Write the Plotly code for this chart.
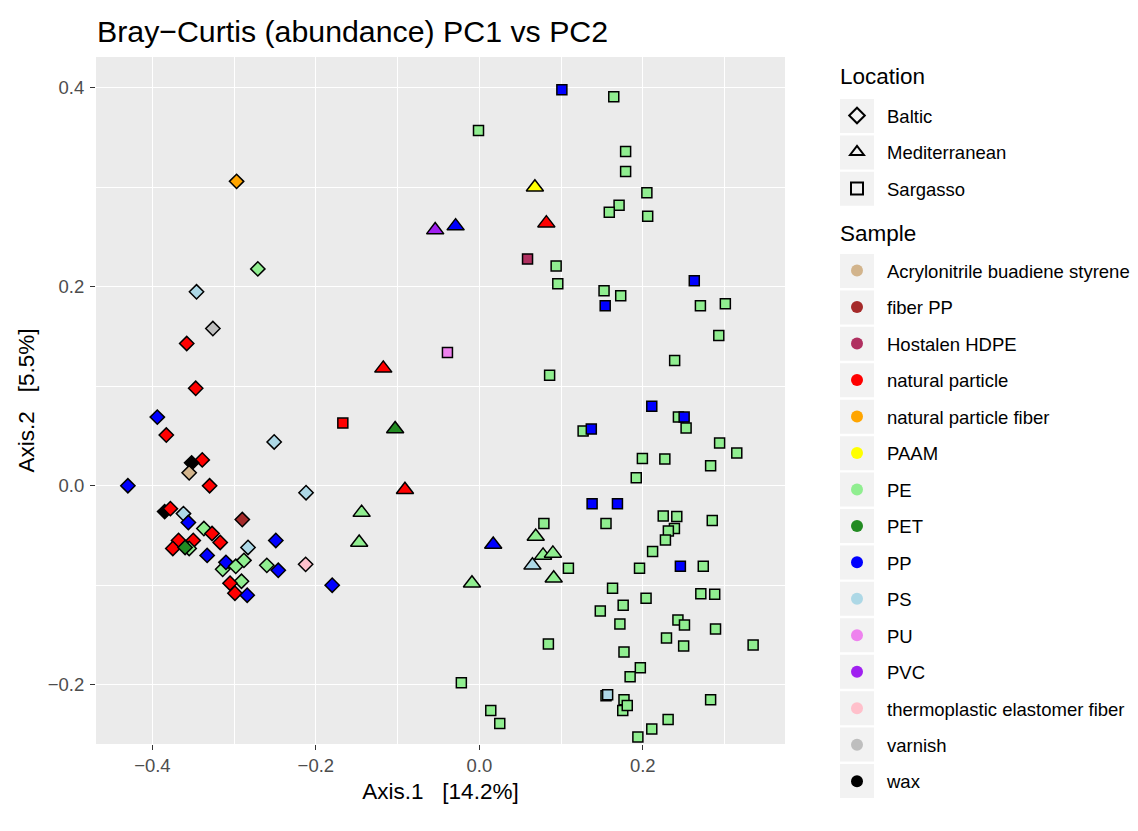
import plotly.graph_objects as go

# ---------------- data ----------------
location_names = ["Baltic", "Mediterranean", "Sargasso"]
location_symbols = ["diamond", "triangle-up", "square"]

sample_names = ["Acrylonitrile buadiene styrene", "fiber PP", "Hostalen HDPE",
                "natural particle", "natural particle fiber", "PAAM", "PE", "PET",
                "PP", "PS", "PU", "PVC", "thermoplastic elastomer fiber",
                "varnish", "wax"]
sample_colors = ["#D2B48C", "#A52A2A", "#B03060", "#FF0000", "#FFA500", "#FFFF00",
                 "#90EE90", "#228B22", "#0000FF", "#ADD8E6", "#EE82EE", "#A020F0",
                 "#FFC0CB", "#BEBEBE", "#000000"]

baltic_pc1 = [-0.271, -0.346, -0.326, -0.358, -0.347, -0.394, -0.383, -0.251, -0.339,
              -0.352, -0.355, -0.430, -0.330, -0.212, -0.297, -0.385, -0.378, -0.362,
              -0.356, -0.290, -0.337, -0.327, -0.317, -0.283, -0.249, -0.368, -0.350,
              -0.375, -0.355, -0.360, -0.333, -0.314, -0.310, -0.298, -0.288, -0.260,
              -0.246, -0.2125, -0.291, -0.305, -0.299, -0.284, -0.180]
baltic_pc2 = [0.218, 0.195, 0.158, 0.143, 0.098, 0.069, 0.051, 0.044, 0.026,
              0.023, 0.013, 0.000, 0.000, -0.007, 0.306, -0.026, -0.023, -0.028,
              -0.037, -0.034, -0.043, -0.048, -0.057, -0.062, -0.055, -0.055, -0.055,
              -0.063, -0.063, -0.062, -0.070, -0.084, -0.077, -0.081, -0.075, -0.080,
              -0.085, -0.079, -0.096, -0.098, -0.108, -0.110, -0.100]
baltic_sample = ["PE", "PS", "varnish", "natural particle", "natural particle", "PP",
                 "natural particle", "PS", "natural particle", "wax",
                 "Acrylonitrile buadiene styrene", "PP", "natural particle", "PS",
                 "natural particle fiber", "wax", "natural particle", "PS", "PP",
                 "fiber PP", "PE", "natural particle", "natural particle", "PS", "PP",
                 "natural particle", "natural particle", "natural particle", "PE", "PET",
                 "PP", "PE", "PP", "PE", "PE", "PE", "PP",
                 "thermoplastic elastomer fiber", "PE", "natural particle",
                 "natural particle", "PP", "PP"]

sargasso_pc1 = [-0.001, 0.059, -0.167, -0.039, 0.101, 0.1645, 0.179, 0.179, 0.205,
                0.171, 0.159, 0.206, 0.094, 0.096, 0.1526, 0.173, 0.263, 0.154,
                0.2705, 0.301, 0.293, 0.239, 0.086, 0.211, 0.2436, 0.2506, 0.253,
                0.127, 0.137, 0.294, 0.315, 0.1995, 0.227, 0.283, 0.192, 0.138,
                0.169, 0.079, 0.155, 0.225, 0.2416, 0.2387, 0.2313, 0.2277, 0.285,
                0.109, 0.212, 0.196, 0.246, 0.274, 0.163, 0.204, 0.271, 0.288,
                0.176, 0.148, 0.172, 0.243, 0.251, 0.289, 0.229, 0.250, 0.335,
                0.0845, 0.177, 0.197, 0.1845, -0.022, 0.155, 0.157, 0.177, 0.1755,
                0.181, 0.283, 0.014, 0.025, 0.231, 0.211, 0.194]
sargasso_pc2 = [0.357, 0.228, 0.063, 0.134, 0.398, 0.391, 0.336, 0.316, 0.2945,
                0.282, 0.275, 0.271, 0.221, 0.203, 0.196, 0.191, 0.206, 0.181,
                0.181, 0.183, 0.151, 0.126, 0.111, 0.080, 0.069, 0.069, 0.058,
                0.055, 0.057, 0.043, 0.033, 0.0275, 0.027, 0.020, 0.008, -0.018,
                -0.018, -0.038, -0.038, -0.0305, -0.031, -0.043, -0.0455, -0.0546, -0.035,
                -0.083, -0.066, -0.083, -0.081, -0.081, -0.103, -0.113, -0.1085, -0.109,
                -0.120, -0.126, -0.139, -0.135, -0.140, -0.144, -0.153, -0.161, -0.160,
                -0.159, -0.167, -0.183, -0.192, -0.198, -0.211, -0.210, -0.215, -0.226,
                -0.221, -0.215, -0.226, -0.239, -0.235, -0.2445, -0.2526]
sargasso_sample = ["PE", "Hostalen HDPE", "natural particle", "PU", "PP", "PE", "PE",
                   "PE", "PE", "PE", "PE", "PE", "PE", "PE", "PE", "PE", "PP", "PP",
                   "PE", "PE", "PE", "PE", "PE", "PP", "PE", "PP", "PE", "PE", "PP",
                   "PE", "PE", "PE", "PE", "PE", "PE", "PP", "PP", "PE", "PE", "PE",
                   "PE", "PE", "PE", "PE", "PE", "PE", "PE", "PE", "PP", "PE", "PE",
                   "PE", "PE", "PE", "PE", "PE", "PE", "PE", "PE", "PE", "PE", "PE",
                   "PE", "PE", "PE", "PE", "PE", "PE", "PE", "PS", "PE", "PE", "PE",
                   "PE", "PE", "PE", "PE", "PE", "PE"]

med_pc1 = [0.068, -0.054, -0.029, 0.082, -0.1175, -0.103, -0.091, -0.144, -0.147,
           0.017, 0.069, 0.078, 0.090, 0.065, 0.091, -0.009]
med_pc2 = [0.300, 0.257, 0.261, 0.264, 0.118, 0.057, -0.004, -0.027, -0.057,
           -0.059, -0.051, -0.070, -0.068, -0.080, -0.093, -0.098]
med_sample = ["PAAM", "PVC", "PP", "natural particle", "natural particle", "PET",
              "natural particle", "PE", "PE", "PP", "PE", "PE", "PE", "PS", "PE", "PE"]

# ---------------- figure ----------------
color_of = dict(zip(sample_names, sample_colors))
sym_of = dict(zip(location_names, location_symbols))
FONT = "Liberation Sans, Arial, Helvetica, sans-serif"

# The page body has an 8px margin, so the figure is sized to fit the window.
OFF = 8
WIN_W, WIN_H = 1138, 831
W, H = WIN_W - OFF, WIN_H - OFF
# panel edges in window pixels: left 96, right 785, top 57, bottom 744
ML, MR, MT, MB = 96 - OFF, WIN_W - 785, 57 - OFF, WIN_H - 744
PW, PH = W - ML - MR, H - MT - MB


def px(x):   # window pixel -> paper x
    return (x - OFF - ML) / PW


def py(y):   # window pixel -> paper y
    return (H - MB - (y - OFF)) / PH


fig = go.Figure()

groups = [
    ("Baltic", baltic_pc1, baltic_pc2, baltic_sample, 11),
    ("Sargasso", sargasso_pc1, sargasso_pc2, sargasso_sample, 10),
    ("Mediterranean", med_pc1, med_pc2, med_sample, 15),
]
for loc, xs, ys, ss, size in groups:
    fig.add_trace(go.Scatter(
        x=xs, y=ys, mode="markers", showlegend=False, hoverinfo="skip",
        marker=dict(symbol=sym_of[loc], size=size,
                    color=[color_of[s] for s in ss],
                    line=dict(color="black", width=1.5)),
    ))

# legend: Location (shapes)
loc_key_size = {"diamond": 10, "triangle-up": 11, "square": 8}
for i, (loc, sym) in enumerate(zip(location_names, location_symbols)):
    fig.add_trace(go.Scatter(
        x=[None], y=[None], mode="markers", name=loc, legend="legend",
        legendgroup="loc" + str(i),
        marker=dict(symbol=sym + "-open", size=loc_key_size[sym], color="black",
                    line=dict(color="black", width=2.5)),
    ))

# legend: Sample (colours)
for i, (nm, col) in enumerate(zip(sample_names, sample_colors)):
    fig.add_trace(go.Scatter(
        x=[None], y=[None], mode="markers", name=nm, legend="legend2",
        legendgroup="s" + str(i),
        marker=dict(symbol="circle", size=10, color=col, line=dict(width=0)),
    ))

# grey key backgrounds behind legend symbols
shapes = []
loc_first, sam_first, step = 116, 271, 36.43
for k in range(len(location_names)):
    c = loc_first + k * step
    shapes.append(dict(type="rect", xref="paper", yref="paper", layer="below",
                       x0=px(840), x1=px(874), y0=py(c + 17), y1=py(c - 17),
                       fillcolor="#F2F2F2", line=dict(width=0)))
for k in range(len(sample_names)):
    c = sam_first + k * step
    shapes.append(dict(type="rect", xref="paper", yref="paper", layer="below",
                       x0=px(840), x1=px(874), y0=py(c + 17), y1=py(c - 17),
                       fillcolor="#F2F2F2", line=dict(width=0)))

axis_common = dict(
    showgrid=True, gridcolor="white", gridwidth=1.2,
    zeroline=False, showline=False, automargin=False,
    ticks="outside", ticklen=5, tickcolor="#333333", tickwidth=1.1,
    tickfont=dict(family=FONT, size=18.5, color="#4D4D4D"),
    tickformat=".1f", tick0=0, dtick=0.2,
    minor=dict(dtick=0.1, showgrid=True, gridcolor="white", gridwidth=0.6, ticks=""),
    title_font=dict(family=FONT, size=22.5, color="black"),
)

leg_common = dict(font=dict(family=FONT, size=18.5, color="black"), xanchor="left",
                  x=px(827), yanchor="top", tracegroupgap=9.43, itemwidth=50,
                  itemsizing="constant", bgcolor="rgba(0,0,0,0)", itemclick=False)

fig.update_layout(
    width=W, height=H,
    paper_bgcolor="white", plot_bgcolor="#EBEBEB",
    margin=dict(l=ML, r=MR, t=MT, b=MB, autoexpand=False),
    font=dict(family=FONT, color="black"),
    title=dict(text="Bray\u2212Curtis (abundance) PC1 vs PC2",
               x=(97 - OFF) / W, xref="container", xanchor="left",
               y=1 - (31 - OFF) / H, yanchor="middle",
               font=dict(family=FONT, size=30.3, color="black")),
    xaxis=dict(axis_common, range=[-0.469, 0.374],
               title=dict(text="Axis.1   [14.2%]", standoff=8)),
    yaxis=dict(axis_common, range=[-0.2596, 0.431], ticklabelstandoff=2,
               title=dict(text="Axis.2   [5.5%]", standoff=6)),
    legend=dict(leg_common, y=py(97)),
    legend2=dict(leg_common, y=py(252)),
    shapes=shapes,
    annotations=[
        dict(text="Location", xref="paper", yref="paper", x=px(838), y=py(76),
             xanchor="left", yanchor="middle", showarrow=False,
             font=dict(family=FONT, size=22.5, color="black")),
        dict(text="Sample", xref="paper", yref="paper", x=px(838), y=py(233),
             xanchor="left", yanchor="middle", showarrow=False,
             font=dict(family=FONT, size=22.5, color="black")),
    ],
)

fig.write_html("out.html", config={"displayModeBar": False})
